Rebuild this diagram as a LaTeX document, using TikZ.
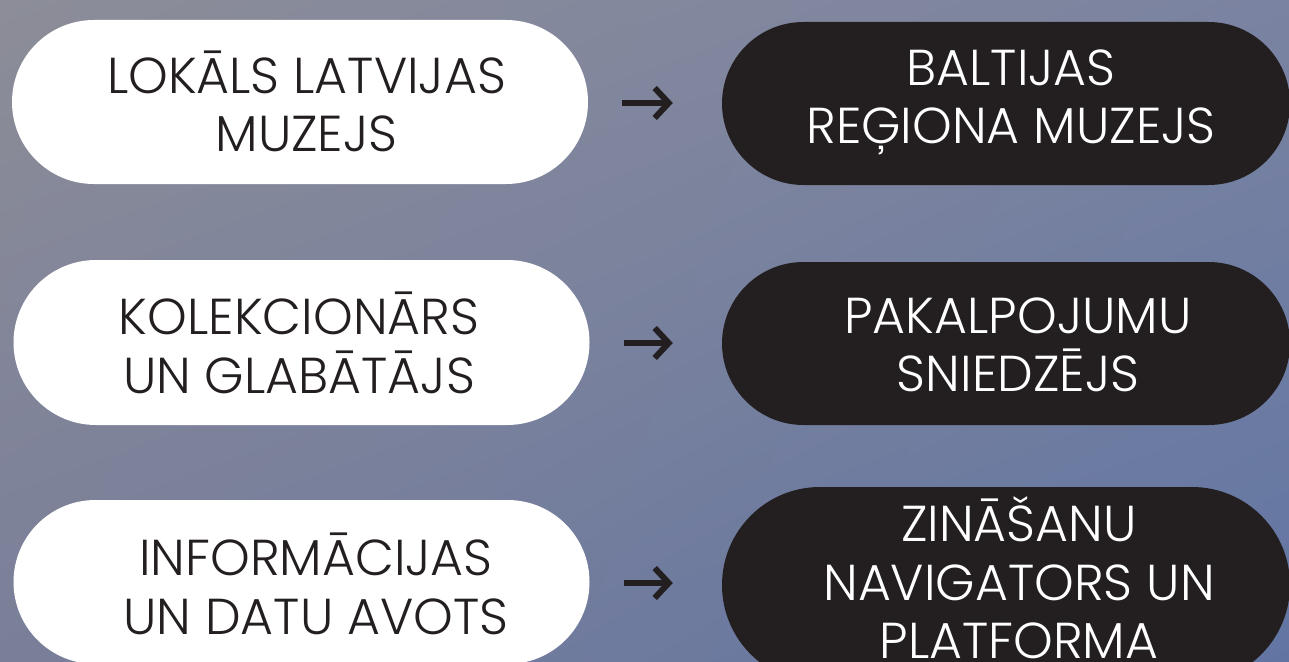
\documentclass[tikz,border=0pt]{standalone}
\usepackage{fontspec}
\setmainfont{Poppins}[UprightFont=* Light]
\usetikzlibrary{arrows.meta,shadings}
\definecolor{ink}{HTML}{231F20}
\definecolor{bgUL}{HTML}{8C8D98}
\definecolor{bgUR}{HTML}{7A83A1}
\definecolor{bgLL}{HTML}{7A7F99}
\definecolor{bgLR}{HTML}{6175A3}
\tikzset{
  pillW/.style={draw=none, fill=white, rectangle, minimum width=576pt, minimum height=#1, rounded corners=0.5*#1, inner sep=0pt},
  pillB/.style={draw=none, fill=ink, rectangle, minimum width=568pt, minimum height=#1, rounded corners=0.5*#1, inner sep=0pt},
  lbl/.style={align=center, font=\fontsize{50.5}{58.5}\selectfont, inner sep=0pt},
  lblW/.style={lbl, text=ink},
  lblB/.style={lbl, text=white},
  arr/.style={draw=ink, line width=6pt, -{Straight Barb[length=14pt, width=30pt, line join=miter, line cap=butt]}, shorten <=34pt, shorten >=49pt}
}
\begin{document}
\begin{tikzpicture}[x=1pt,y=-1pt]
\useasboundingbox (0,0) rectangle (1289,661);
\shade[upper left=bgUL, upper right=bgUR, lower left=bgLL, lower right=bgLR] (0,0) rectangle (1289,661);
% pills
\node[pillW=164pt] (l1) at (300,102) {};
\node[pillB=163pt] (r1) at (1006,103.5) {};
\node[pillW=165pt] (l2) at (301.5,342.5) {};
\node[pillB=163pt] (r2) at (1006,343.5) {};
\node[pillW=164pt] (l3) at (301.5,582) {};
\node[pillB=196pt] (r3) at (1006,585) {};
% labels
\node[lblW] (t1) at (306.5,101.5) {LOKĀLS LATVIJAS\\MUZEJS};
\node[lblB] (u1) at (1011,102.5) {BALTIJAS\\REĢIONA MUZEJS};
\node[lblW] (t2) at (299,343) {KOLEKCIONĀRS\\UN GLABĀTĀJS};
\node[lblB] (u2) at (1018,345) {PAKALPOJUMU\\SNIEDZĒJS};
\node[lblW] (t3) at (316,584) {INFORMĀCIJAS\\UN DATU AVOTS};
\node[lblB] (u3) at (1019,578) {ZINĀŠANU\\NAVIGATORS UN\\PLATFORMA};
% arrows
\coordinate (a1) at (l1.east |- 0,103);
\coordinate (b1) at (r1.west |- 0,103);
\coordinate (a2) at (l2.east |- 0,343);
\coordinate (b2) at (r2.west |- 0,343);
\coordinate (a3) at (l3.east |- 0,583);
\coordinate (b3) at (r3.west |- 0,583);
\draw[arr] (a1) -- (b1);
\draw[arr] (a2) -- (b2);
\draw[arr] (a3) -- (b3);
\end{tikzpicture}
\end{document}
